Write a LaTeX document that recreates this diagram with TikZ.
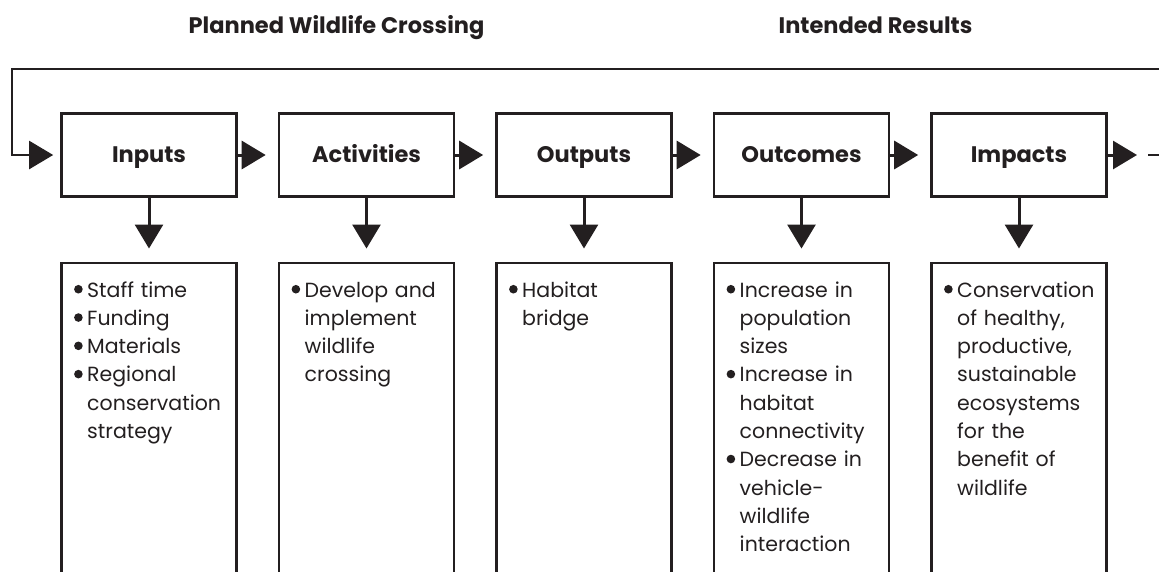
\documentclass[tikz,border=0pt]{standalone}
\usepackage{fontspec}
\setmainfont{Poppins}
\usetikzlibrary{arrows.meta}
\definecolor{ink}{RGB}{35,31,32}
\newcommand{\itm}{\leavevmode\llap{\raisebox{0.17em}{\tikz\fill[ink] (0,0) circle (4.3pt);}\hspace{4.5pt}}}
\begin{document}
\begin{tikzpicture}[x=1pt,y=-1pt,
  topbox/.style={draw=ink, line width=2.6pt, minimum width=175pt, minimum height=83pt, inner sep=0pt,
    text=ink, text height=16pt, text depth=1.4pt, font={\fontsize{22.5}{26}\selectfont\bfseries}},
  lowbox/.style={draw=ink, line width=2.6pt, minimum width=175pt, minimum height=340pt, inner sep=0pt, anchor=north},
  listtxt/.style={anchor=north west, inner sep=0pt, text width=150pt, align=left, text=ink,
    font={\fontsize{20.5}{28.3}\selectfont}},
  title/.style={anchor=base, inner sep=0pt, text=ink, font={\fontsize{22.5}{26}\selectfont\bfseries}},
  conn/.style={ink, line width=3pt, -{Triangle[length=24pt,width=28pt]}},
  looparrow/.style={ink, line width=2.2pt, -{Triangle[length=24pt,width=28pt]}}
]
\useasboundingbox (0,0) rectangle (1159,571);

% titles
\node[title] (t1) at (336.5,33) {Planned Wildlife Crossing};
\node[title] (t2) at (875.5,33) {Intended Results};

% top boxes
\node[topbox] (inputs) at (149,155) {Inputs};
\node[topbox] (activities) at (366.5,155) {Activities};
\node[topbox] (outputs) at (584,155) {Outputs};
\node[topbox] (outcomes) at (801.5,155) {Outcomes};
\node[topbox] (impacts) at (1019,155) {Impacts};

% lower boxes (open at the bottom edge)
\node[lowbox] (inputsB) at (149,261.5) {};
\node[lowbox] (activitiesB) at (366.5,261.5) {};
\node[lowbox] (outputsB) at (584,261.5) {};
\node[lowbox] (outcomesB) at (801.5,261.5) {};
\node[lowbox] (impactsB) at (1019,261.5) {};

% lists
\node[listtxt] (inputsL) at (87,277) {\strut\itm Staff time\\\itm Funding\\\itm Materials\\\itm Regional\\conservation\\strategy};
\node[listtxt] (activitiesL) at (304.5,277) {\strut\itm Develop and\\implement\\wildlife\\crossing};
\node[listtxt] (outputsL) at (522,277) {\strut\itm Habitat\\bridge};
\node[listtxt] (outcomesL) at (739.5,277) {\strut\itm Increase in\\population\\sizes\\\itm Increase in\\habitat\\connectivity\\\itm Decrease in\\vehicle-\\wildlife\\interaction};
\node[listtxt] (impactsL) at (957,277) {\strut\itm Conservation\\of healthy,\\productive,\\sustainable\\ecosystems\\for the\\benefit of\\wildlife};

% coordinates
\coordinate (loopR) at (1159,69);
\coordinate (loopL) at (12,69);
\coordinate (tipR) at (1137,155);
\coordinate (dashA) at (1148,155);
\coordinate (dashB) at (1159,155);

% feedback loop
\draw[looparrow, shorten >=7pt] (loopR) -- (loopL) |- (inputs.west);

% horizontal connectors
\draw[conn, shorten >=12pt] (inputs.east) -- (activities.west);
\draw[conn, shorten >=12pt] (activities.east) -- (outputs.west);
\draw[conn, shorten >=12pt] (outputs.east) -- (outcomes.west);
\draw[conn, shorten >=12pt] (outcomes.east) -- (impacts.west);
\draw[conn] (impacts.east) -- (tipR);
\draw[ink, line width=2pt] (dashA) -- (dashB);

% down connectors
\draw[conn, shorten >=13pt] (inputs.south) -- (inputsB.north);
\draw[conn, shorten >=13pt] (activities.south) -- (activitiesB.north);
\draw[conn, shorten >=13pt] (outputs.south) -- (outputsB.north);
\draw[conn, shorten >=13pt] (outcomes.south) -- (outcomesB.north);
\draw[conn, shorten >=13pt] (impacts.south) -- (impactsB.north);
\end{tikzpicture}
\end{document}
